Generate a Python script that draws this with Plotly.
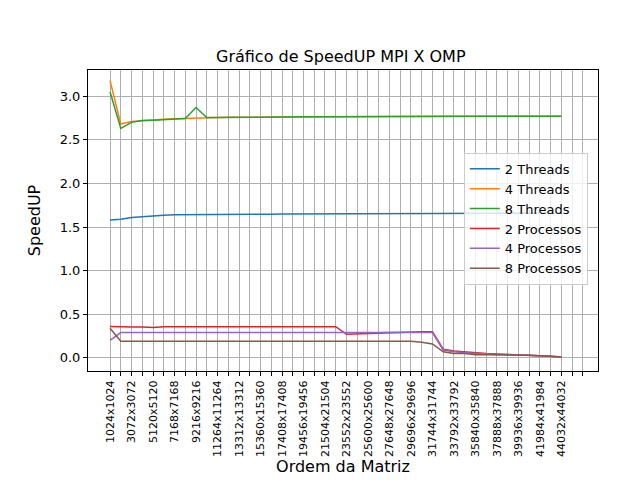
import plotly.graph_objs as go

ordens = list(range(1024, 44033, 1024))

threads_2 = [1.58, 1.59, 1.61, 1.62, 1.63, 1.635, 1.64, 1.64, 1.645, 1.645, 1.645, 1.645, 1.648, 1.645,
             1.648, 1.648, 1.65, 1.65, 1.65, 1.65, 1.65, 1.65, 1.652, 1.652, 1.652, 1.652, 1.652, 1.652,
             1.652, 1.655, 1.655, 1.655, 1.655, 1.655, 1.655, 1.655, 1.655, 1.658, 1.658, 1.658, 1.66,
             1.66, 1.66]
threads_4 = [3.18, 2.68, 2.71, 2.72, 2.73, 2.735, 2.74, 2.745, 2.75, 2.755, 2.755, 2.757, 2.758, 2.758,
             2.76, 2.76, 2.762, 2.762, 2.763, 2.763, 2.764, 2.764, 2.765, 2.765, 2.766, 2.766, 2.766,
             2.766, 2.767, 2.767, 2.768, 2.768, 2.768, 2.769, 2.769, 2.769, 2.77, 2.77, 2.77, 2.77,
             2.771, 2.771, 2.771]
threads_8 = [3.05, 2.63, 2.70, 2.72, 2.725, 2.73, 2.74, 2.745, 2.87, 2.755, 2.755, 2.757, 2.758, 2.758,
             2.76, 2.76, 2.762, 2.762, 2.763, 2.763, 2.764, 2.764, 2.765, 2.765, 2.766, 2.766, 2.766,
             2.766, 2.767, 2.767, 2.768, 2.768, 2.768, 2.769, 2.769, 2.769, 2.77, 2.77, 2.77, 2.77,
             2.771, 2.771, 2.771]
proc_2 = [0.36, 0.355, 0.355, 0.355, 0.35, 0.358, 0.358, 0.358, 0.358, 0.357, 0.357, 0.357, 0.357,
          0.357, 0.356, 0.355, 0.357, 0.357, 0.356, 0.35, 0.358, 0.358, 0.27, 0.275, 0.28, 0.285,
          0.29, 0.295, 0.30, 0.30, 0.30, 0.10, 0.08, 0.07, 0.055, 0.05, 0.045, 0.04, 0.038, 0.035,
          0.03, 0.02, 0.01]
proc_4 = [0.20, 0.29, 0.29, 0.29, 0.29, 0.29, 0.29, 0.29, 0.29, 0.29, 0.29, 0.29, 0.29, 0.29,
          0.29, 0.29, 0.29, 0.29, 0.29, 0.29, 0.285, 0.29, 0.29, 0.29, 0.29, 0.29, 0.295, 0.295,
          0.295, 0.295, 0.29, 0.09, 0.07, 0.06, 0.05, 0.045, 0.04, 0.038, 0.035, 0.03, 0.025,
          0.02, 0.01]
proc_8 = [0.34, 0.19, 0.19, 0.19, 0.19, 0.19, 0.19, 0.19, 0.19, 0.19, 0.19, 0.19, 0.19, 0.19,
          0.19, 0.19, 0.19, 0.19, 0.19, 0.19, 0.19, 0.19, 0.19, 0.19, 0.19, 0.19, 0.19, 0.19,
          0.19, 0.18, 0.16, 0.07, 0.05, 0.05, 0.035, 0.035, 0.035, 0.035, 0.03, 0.03, 0.025,
          0.02, 0.01]

series = [('2 Threads', threads_2, '#1f77b4'), ('4 Threads', threads_4, '#ff7f0e'),
          ('8 Threads', threads_8, '#2ca02c'), ('2 Processos', proc_2, '#d62728'),
          ('4 Processos', proc_4, '#9467bd'), ('8 Processos', proc_8, '#8c564b')]

tick_vals = list(range(1024, 46081, 1024))
tick_text = ['{0}x{0}'.format(v) if i % 2 == 0 and v <= 44032 else '' for i, v in enumerate(tick_vals)]

data = [go.Scatter(x=ordens, y=ys, name=nome, mode='lines', line=dict(color=cor, width=1.5))
        for nome, ys, cor in series]

eixo = dict(showline=True, mirror=True, linecolor='black', linewidth=1, ticks='outside',
            ticklen=4, tickcolor='black', gridcolor='#b0b0b0', gridwidth=1, zeroline=False,
            automargin=False)

layout = go.Layout(
    width=640, height=480,
    paper_bgcolor='white', plot_bgcolor='white',
    margin=dict(l=80, r=50, t=62, b=117),
    font=dict(family='DejaVu Sans', size=13, color='black'),
    title=dict(text='Gráfico de SpeedUP MPI X OMP', x=0.52, xanchor='center', y=0.91, font=dict(size=16)),
    xaxis=dict(eixo, title=dict(text='Ordem da Matriz', standoff=4), range=[-1075, 47514],
               tickvals=tick_vals, ticktext=tick_text, tickangle=-90, tickfont=dict(size=11)),
    yaxis=dict(eixo, title=dict(text='SpeedUP'), range=[-0.15, 3.30],
               tickvals=[0, 0.5, 1, 1.5, 2, 2.5, 3], ticktext=['0.0', '0.5', '1.0', '1.5', '2.0', '2.5', '3.0']),
    legend=dict(x=0.98, y=0.725, xanchor='right', yanchor='top', bgcolor='rgba(255,255,255,0.8)',
                bordercolor='#cccccc', borderwidth=1, font=dict(size=13)),
)

fig = go.Figure(data=data, layout=layout)
fig.write_html('out.html')
